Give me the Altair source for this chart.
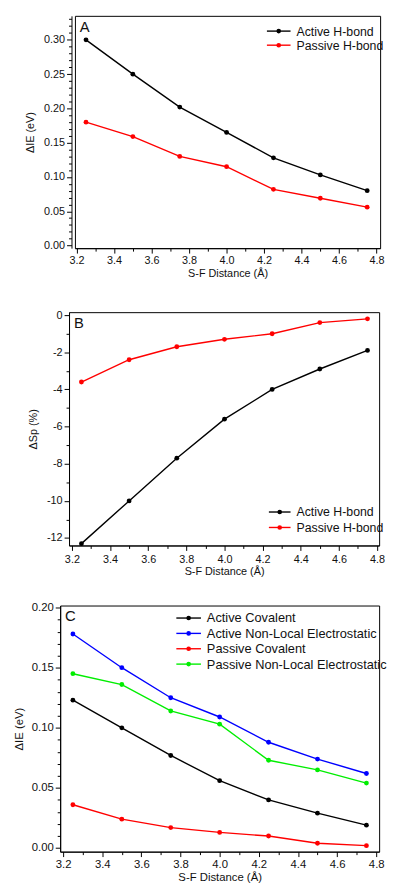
import altair as alt
import pandas as pd

FONT = "Liberation Sans"

# ---------------- data ----------------
dist = [3.25, 3.50, 3.75, 4.00, 4.25, 4.50, 4.75]

a_series = ["Active H-bond", "Passive H-bond"]
a_active = [0.300, 0.250, 0.202, 0.165, 0.128, 0.103, 0.080]
a_passive = [0.180, 0.159, 0.130, 0.115, 0.082, 0.069, 0.056]

b_series = ["Active H-bond", "Passive H-bond"]
b_active = [-12.3, -10.0, -7.7, -5.6, -4.0, -2.9, -1.9]
b_passive = [-3.6, -2.4, -1.7, -1.3, -1.0, -0.4, -0.2]

c_series = ["Active Covalent", "Active Non-Local Electrostatic",
            "Passive Covalent", "Passive Non-Local Electrostatic"]
c_active_cov = [0.123, 0.100, 0.077, 0.056, 0.040, 0.029, 0.019]
c_active_nle = [0.178, 0.150, 0.125, 0.109, 0.088, 0.074, 0.062]
c_passive_cov = [0.036, 0.024, 0.017, 0.013, 0.010, 0.004, 0.002]
c_passive_nle = [0.145, 0.136, 0.114, 0.103, 0.073, 0.065, 0.054]

ab_colors = ["#000000", "#ff0000"]
c_colors = ["#000000", "#0000ff", "#ff0000", "#00ee00"]

# major + minor tick values
x_ticks = [3.2, 3.3, 3.4, 3.5, 3.6, 3.7, 3.8, 3.9, 4.0,
           4.1, 4.2, 4.3, 4.4, 4.5, 4.6, 4.7, 4.8]
a_yticks = [i / 100 for i in range(0, 34)]
b_yticks = [-12, -11, -10, -9, -8, -7, -6, -5, -4, -3, -2, -1, 0]
c_yticks = [i / 100 for i in range(0, 21)]

x_title = "S-F Distance (Å)"

X_MAJOR = "abs(datum.value*5 - round(datum.value*5)) < 0.001"
Y5_MAJOR = "abs(datum.value*20 - round(datum.value*20)) < 0.001"
B_MAJOR = "datum.value % 2 == 0"

ONE = pd.DataFrame({"a": [0]})


def long_df(series, values):
    rows = []
    for name, vals in zip(series, values):
        for d, v in zip(dist, vals):
            rows.append({"dist": d, "val": v, "series": name})
    return pd.DataFrame(rows)


def legend_layers(series, colors, leg):
    out = []
    x0, ln, y0, dy, fsz = leg["x"], leg["len"], leg["y"], leg["dy"], leg["font"]
    for i, (name, col) in enumerate(zip(series, colors)):
        y = y0 + i * dy
        out.append(alt.Chart(ONE).mark_rule(color=col, strokeWidth=1.4).encode(
            x=alt.value(x0), x2=alt.value(x0 + ln), y=alt.value(y)))
        out.append(alt.Chart(ONE).mark_point(
            filled=True, size=22, opacity=1, color=col).encode(
            x=alt.value(x0 + ln / 2), y=alt.value(y)))
        out.append(alt.Chart(ONE).mark_text(
            text=name, align="left", baseline="middle", fontSize=fsz,
            font=FONT, color="#111111").encode(
            x=alt.value(x0 + ln + 6), y=alt.value(y + 0.5)))
    return out


def panel(df, series, colors, letter, width, height, xdom, ydom,
          yticks, ymajor, yfmt, ytitle, yoffset, fs, leg):
    base = alt.Chart(df)
    xs = alt.Scale(domain=xdom, nice=False, zero=False)
    ys = alt.Scale(domain=ydom, nice=False, zero=False)
    cs = alt.Scale(domain=series, range=colors)

    line = base.mark_line(strokeWidth=1.4).encode(
        x=alt.X("dist:Q", scale=xs, axis=alt.Axis(
            values=x_ticks, tickCount=100,
            labelExpr=f"{X_MAJOR} ? format(datum.value, '.1f') : ''",
            tickSize={"condition": {"test": X_MAJOR, "value": 5}, "value": 3},
            title=x_title, labelPadding=fs["xlabpad"],
            titlePadding=fs["xtitlepad"], labelFontSize=fs["label"],
            titleFontSize=fs["title"], labelOverlap=False, labelFlush=False,
            grid=False, orient="bottom")),
        y=alt.Y("val:Q", scale=ys, axis=alt.Axis(
            values=yticks, tickCount=100,
            labelExpr=f"{ymajor} ? {yfmt} : ''",
            tickSize={"condition": {"test": ymajor, "value": 5}, "value": 3},
            title=ytitle, labelPadding=2, offset=yoffset,
            titlePadding=fs["ytitlepad"], labelFontSize=fs["label"],
            titleFontSize=fs["title"], labelOverlap=False, labelFlush=False,
            grid=False, orient="left")),
        stroke=alt.Stroke("series:N", scale=cs, legend=None),
    )
    pts = base.mark_point(filled=True, size=24, opacity=1).encode(
        x=alt.X("dist:Q"),
        y=alt.Y("val:Q"),
        fill=alt.Fill("series:N", scale=cs, legend=None),
    )
    txt = alt.Chart(ONE).mark_text(
        text=letter, align="left", baseline="alphabetic", fontSize=15,
        font=FONT, color="#111111").encode(x=alt.value(5), y=alt.value(16))

    return alt.layer(line, pts, txt, *legend_layers(series, colors, leg)).properties(
        width=width, height=height)


def row(spacer_w, chart):
    spacer = alt.Chart(ONE).mark_point(opacity=0, size=0).encode(
        x=alt.value(0), y=alt.value(0)).properties(
        width=spacer_w, height=1, view=alt.ViewBackground(stroke="transparent"))
    return alt.hconcat(spacer, chart, spacing=0)


df_a = long_df(a_series, [a_active, a_passive])
df_b = long_df(b_series, [b_active, b_passive])
df_c = long_df(c_series, [c_active_cov, c_active_nle, c_passive_cov, c_passive_nle])

chart_a = panel(df_a, a_series, ab_colors, "A", 310, 236,
                [3.191, 4.819], [-0.0038, 0.335], a_yticks, Y5_MAJOR,
                "format(datum.value, '.2f')", "ΔIE (eV)", 3.5,
                {"label": 11, "title": 11, "xlabpad": 2, "xtitlepad": 2,
                 "ytitlepad": 8.5},
                {"x": 195, "len": 24, "y": 15.5, "dy": 14.3, "font": 12.5})

chart_b = panel(df_b, b_series, ab_colors, "B", 315, 237,
                [3.185, 4.811], [-12.40, 0.16], b_yticks, B_MAJOR,
                "'' + datum.value", "ΔSp (%)", 0,
                {"label": 11, "title": 11, "xlabpad": 3, "xtitlepad": 1,
                 "ytitlepad": 8.5},
                {"x": 203, "len": 22, "y": 203, "dy": 15.7, "font": 12.5})

chart_c = panel(df_c, c_series, c_colors, "C", 324, 250,
                [3.185, 4.815], [-0.003, 0.2017], c_yticks, Y5_MAJOR,
                "format(datum.value, '.2f')", "ΔIE (eV)", 0,
                {"label": 11.5, "title": 11.5, "xlabpad": 2, "xtitlepad": 2,
                 "ytitlepad": 7},
                {"x": 118, "len": 25, "y": 12.7, "dy": 15.6, "font": 13})

lower = alt.vconcat(row(14.6, chart_b), row(1, chart_c), spacing=24).resolve_scale(
    x="independent", y="independent", stroke="independent", fill="independent")

chart = alt.vconcat(row(12.5, chart_a), lower, spacing=29).resolve_scale(
    x="independent", y="independent", stroke="independent", fill="independent"
).properties(
    padding={"left": 2, "top": -3, "right": 0, "bottom": 0}
).configure_view(stroke="black", strokeWidth=1).configure_axis(
    domainColor="black", tickColor="black", domainWidth=1, tickWidth=1,
    labelColor="#111111", titleColor="#111111", labelFont=FONT,
    titleFont=FONT, titleFontWeight="normal"
)

chart.save("out.html", embed_options={"renderer": "svg", "actions": False})
